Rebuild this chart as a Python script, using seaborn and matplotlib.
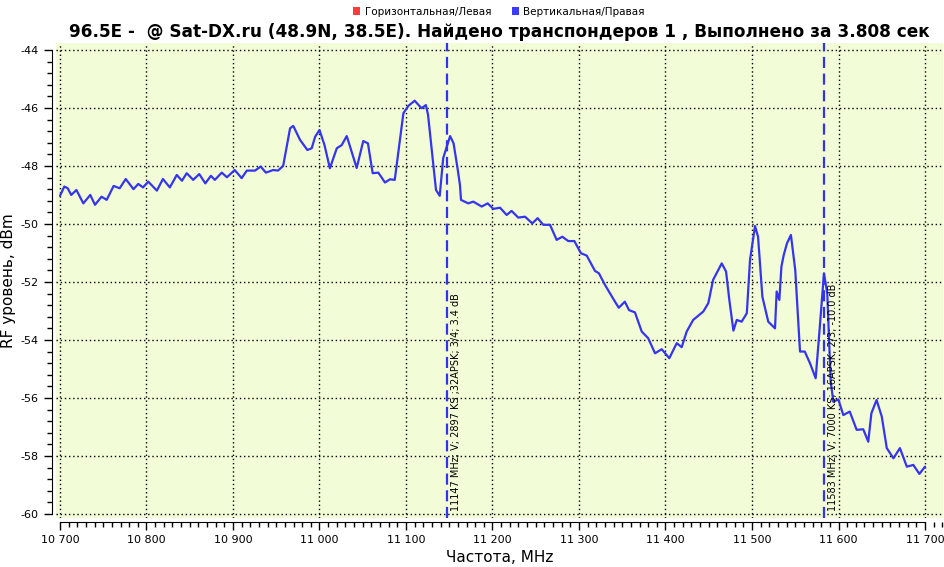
import numpy as np
import pandas as pd
import seaborn as sns
import matplotlib
matplotlib.use('Agg')
import matplotlib.pyplot as plt
from matplotlib.ticker import MultipleLocator, FuncFormatter
from matplotlib.patches import Patch

# spectrum trace (MHz, dBm)
freq = [10700, 10705, 10709, 10713, 10719, 10727, 10735, 10740.5, 10748, 10754,
        10762, 10769, 10776, 10785, 10790.5, 10796, 10802, 10812, 10819, 10827,
        10835, 10841, 10846.5, 10854, 10861, 10868, 10874.5, 10879, 10887, 10893,
        10902, 10910, 10916, 10925.5, 10932, 10938, 10946.5, 10952, 10958, 10966,
        10969.7, 10977.5, 10986, 10991, 10995, 11000, 11005.8, 11012, 11020, 11025.7,
        11031.5, 11035, 11043, 11050.6, 11056, 11061.5, 11068, 11075.7, 11081.5, 11087,
        11091, 11097, 11102.7, 11110, 11118, 11123, 11125.5, 11134.7, 11139, 11143,
        11151, 11155, 11159.6, 11162.4, 11163.6, 11172, 11177.8, 11187.5, 11194.4, 11201,
        11208.7, 11216.4, 11222, 11229.8, 11237.6, 11246, 11252.2, 11258.7, 11266.5, 11274.2,
        11280.7, 11287.6, 11294.6, 11302.3, 11308.9, 11314.7, 11318.5, 11323, 11330, 11335.8,
        11341.6, 11346, 11353, 11357.8, 11364.7, 11372.5, 11380, 11387.9, 11395.6, 11404.4,
        11413, 11418.7, 11424.5, 11432, 11443.7, 11449.5, 11455, 11465, 11470, 11473.8,
        11478.5, 11482.4, 11488, 11494, 11497.7, 11503.5, 11507, 11512, 11518.8, 11526.6,
        11528.5, 11531.6, 11534, 11536.7, 11540.4, 11545, 11550, 11555.5, 11561, 11567,
        11573.6, 11577.8, 11583.2, 11587, 11591, 11594, 11599.8, 11605.6, 11613, 11621,
        11628.6, 11634.4, 11638, 11644, 11650, 11655.8, 11663.5, 11671, 11679, 11686.5,
        11693.5, 11700]
level = [-49.03, -48.71, -48.77, -49.0, -48.83, -49.29, -49.0, -49.34, -49.06, -49.17,
         -48.69, -48.77, -48.45, -48.80, -48.62, -48.74, -48.54, -48.85, -48.45, -48.74,
         -48.31, -48.51, -48.25, -48.48, -48.28, -48.60, -48.34, -48.48, -48.23, -48.39,
         -48.14, -48.42, -48.16, -48.16, -48.02, -48.23, -48.14, -48.16, -48.0, -46.70,
         -46.62, -47.10, -47.45, -47.39, -46.99, -46.76, -47.28, -48.08, -47.39, -47.28,
         -46.97, -47.30, -48.07, -47.14, -47.22, -48.25, -48.23, -48.57, -48.46, -48.48,
         -47.56, -46.18, -45.93, -45.75, -46.01, -45.90, -46.24, -48.83, -49.03, -47.73,
         -46.97, -47.22, -48.08, -48.66, -49.17, -49.29, -49.23, -49.40, -49.29, -49.48,
         -49.44, -49.69, -49.55, -49.78, -49.75, -49.98, -49.80, -50.03, -50.03, -50.55,
         -50.44, -50.59, -50.59, -51.01, -51.09, -51.41, -51.62, -51.70, -52.10, -52.39,
         -52.68, -52.89, -52.68, -52.97, -53.05, -53.71, -53.94, -54.46, -54.32, -54.63,
         -54.11, -54.25, -53.71, -53.31, -53.02, -52.73, -51.93, -51.36, -51.64, -52.62,
         -53.68, -53.31, -53.37, -53.08, -51.24, -50.07, -50.44, -52.51, -53.37, -53.60,
         -52.33, -52.62, -51.47, -51.07, -50.67, -50.38, -51.59, -54.40, -54.40, -54.80,
         -55.32, -53.77, -51.70, -52.39, -55.44, -56.13, -56.05, -56.59, -56.47, -57.10,
         -57.08, -57.51, -56.53, -56.07, -56.64, -57.73, -58.08, -57.73, -58.37, -58.31,
         -58.62, -58.37]

# found transponders
tp_freq = [11147, 11583]
tp_text = ["11147 MHz; V; 2897 KS ;32APSK; 3/4; 3.4 dB",
           "11583 MHz; V; 7000 KS; 16APSK; 2/3; -10.0 dB"]

legend_labels = ["Горизонтальная/Левая", "Вертикальная/Правая"]
legend_colors = ["#ff3b3b", "#3b3bff"]

title = "96.5E -  @ Sat-DX.ru (48.9N, 38.5E). Найдено транспондеров 1 , Выполнено за 3.808 сек"

df = pd.DataFrame({'freq': freq, 'level': level})

sns.set_style("white")
plt.rcParams['font.family'] = ['DejaVu Sans']
plt.rcParams['text.color'] = 'black'
plt.rcParams['axes.labelcolor'] = 'black'
plt.rcParams['xtick.color'] = 'black'
plt.rcParams['ytick.color'] = 'black'

fig = plt.figure(figsize=(9.45, 5.67), dpi=100)
ax = fig.add_axes([56/945, 49/567, 887/945, 475/567])
ax.set_facecolor("#f2fcd6")

sns.lineplot(data=df, x='freq', y='level', ax=ax, color="#3535f0", linewidth=1.6,
             estimator=None, sort=False)

for f, t in zip(tp_freq, tp_text):
    ax.axvline(f, color="#3333ee", linewidth=1.6, linestyle=(0, (5, 2.5)))
    ax.text(f + 5, -59.9, t, rotation=90, fontsize=7, ha='left', va='bottom')

ax.set_xlim(10695.4, 11720.8)
ax.set_ylim(-60.14, -43.76)
ax.xaxis.set_major_locator(MultipleLocator(100))
ax.xaxis.set_minor_locator(MultipleLocator(10))
ax.yaxis.set_major_locator(MultipleLocator(2))
ax.yaxis.set_minor_locator(MultipleLocator(0.4))
ax.xaxis.set_major_formatter(FuncFormatter(lambda v, p: f"{int(round(v)):,}".replace(",", " ")))
ax.yaxis.set_major_formatter(FuncFormatter(lambda v, p: f"{int(round(v))}"))
ax.xaxis.set_ticks_position('bottom')
ax.yaxis.set_ticks_position('left')

ax.grid(True, which='major', color='black', linestyle=(0, (1, 2)), linewidth=1)
for s in ['top', 'right']:
    ax.spines[s].set_visible(False)
ax.spines['left'].set_position(('outward', 3))
ax.spines['bottom'].set_position(('outward', 3))
ax.spines['left'].set_bounds(-60, -44)
ax.spines['bottom'].set_bounds(10700, 11700)
ax.spines['left'].set_color('black')
ax.spines['bottom'].set_color('black')
ax.tick_params(which='major', direction='out', length=6, width=1, color='black',
               labelsize=8, labelcolor='black')
ax.tick_params(which='minor', direction='out', length=3.5, width=1, color='black')

ax.set_xlabel("Частота, MHz", fontsize=11, labelpad=3)
ax.set_ylabel("RF уровень, dBm", fontsize=11, labelpad=3)
ax.set_title(title, fontsize=12.2, fontweight='bold', pad=4)

handles = [Patch(facecolor=c, edgecolor='none', label=l) for c, l in zip(legend_colors, legend_labels)]
fig.legend(handles=handles, loc='upper center', bbox_to_anchor=(0.528, 1.005), ncol=2,
           frameon=False, fontsize=7.5, handlelength=0.7, handleheight=0.7,
           handletextpad=0.4, columnspacing=2.0)

fig.savefig("out.png", dpi=100)
